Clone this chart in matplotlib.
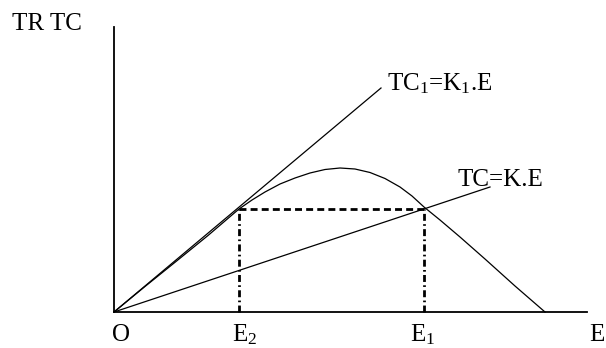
#importing libraries
import matplotlib
matplotlib.use("Agg")
from matplotlib import pyplot as plt

plt.rcParams['font.family'] = ['Liberation Serif', 'DejaVu Serif']
plt.rcParams['mathtext.fontset'] = 'custom'
plt.rcParams['mathtext.rm'] = 'Liberation Serif'
plt.rcParams['mathtext.it'] = 'Liberation Serif'
###########################################################
#data
tr_x = [0, 3.1, 6.2, 9.4, 12.5, 13.8, 15.1, 16.6, 18.1, 19.6, 21.1, 22.6, 24.1, 25.6,
        27.1, 28.6, 29.8, 31.0, 32.6, 34.6, 37.1, 40.1, 43.1]
tr_y = [0, 2.55, 5.05, 7.65, 10.3, 11.2, 12.0, 12.8, 13.4, 13.9, 14.25, 14.4, 14.3, 13.95,
        13.35, 12.5, 11.6, 10.5, 9.2, 7.5, 5.3, 2.6, 0]
tc1_x = [0, 26.7]
tc1_y = [0, 22.4]
tc_x = [0, 37.6]
tc_y = [0, 12.5]
E2 = 12.5
E1 = 31.0
level = 10.3
x_max = 47.3
y_max = 28.5
tick_labels = ["O", "E$_2$", "E$_1$", "E"]
tick_pos = [-0.2, 11.8, 29.6, 47.5]
###########################################################
fig = plt.figure(figsize=(6.06, 3.48), dpi=100)
ax = fig.add_axes([0, 0, 1, 1])
ax.set_xlim(-11.4, 49.2)
ax.set_ylim(-3.6, 31.2)
ax.axis("off")

#axes lines
ax.plot([0, 0], [0, y_max], color="black", lw=1.3)
ax.plot([0, x_max], [0, 0], color="black", lw=1.3)

#curves
ax.plot(tr_x, tr_y, color="black", lw=0.9)
ax.plot(tc1_x, tc1_y, color="black", lw=0.9)
ax.plot(tc_x, tc_y, color="black", lw=0.9)

#dashed box
ax.plot([E2, E1], [level, level], color="black", lw=2, linestyle=(0, (2.5, 1.5)))
ax.plot([E2, E2], [0, level], color="black", lw=2, linestyle=(0, (2.5, 1.2, 0.6, 1.2)))
ax.plot([E1, E1], [0, level], color="black", lw=2, linestyle=(0, (2.5, 1.2, 0.6, 1.2)))

#texts
fs = 18
ax.text(-10.2, 28.2, "TR TC", fontsize=fs, va="baseline", ha="left")
ax.text(27.3, 22.15, "TC$_1$=K$_1$.E", fontsize=fs, va="baseline", ha="left")
ax.text(34.4, 12.6, "TC=K.E", fontsize=fs, va="baseline", ha="left")
for lab, pos in zip(tick_labels, tick_pos):
    ax.text(pos, -2.9, lab, fontsize=fs, va="baseline", ha="left")

fig.savefig("out.png", dpi=100)
